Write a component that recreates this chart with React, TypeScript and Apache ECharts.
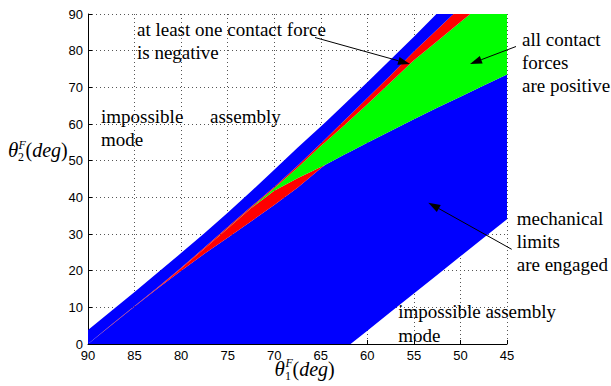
import React, { useEffect, useRef } from "react";
import * as echarts from "echarts";

// θ1^F sample points (deg) along the x axis (axis runs 90 → 45)
const THETA1 = [90, 87.5, 85, 82.5, 80, 77.5, 75, 72.5, 70, 67.5, 65, 64.5, 62.5, 61.8, 60, 57.5, 55, 52.5, 50, 47.5, 45];

// Region boundaries, θ2^F (deg) at each θ1 sample, from bottom to top
// lower edge of the feasible band (below: impossible assembly mode)
const ASSEMBLY_LOWER = [0, 0, 0, 0, 0, 0, 0, 0, 0, 0, 0, 0, 0, 0, 3.6, 8.7, 13.8, 18.8, 23.9, 29.0, 34.0];
// top of "mechanical limits are engaged" (lower blue)
const MECH_TOP = [0, 5.1, 10.2, 15.2, 20.0, 24.6, 29.0, 33.4, 37.9, 42.6, 47.9, 48.9, 51.6, 52.5, 54.9, 58.1, 61.3, 64.4, 67.4, 70.5, 73.5];
// top of the red wedge (negative contact force)
const WEDGE_TOP = [0, 5.1, 10.2, 15.3, 20.6, 26.0, 31.5, 37.0, 41.8, 45.2, 48.3, 48.9, 51.6, 52.5, 54.9, 58.1, 61.3, 64.4, 67.4, 70.5, 73.5];
// top of the green region (all contact forces positive)
const GREEN_TOP = [0, 5.1, 10.2, 15.3, 20.6, 26.0, 31.6, 37.1, 42.5, 48.1, 54.0, 55.1, 59.6, 61.2, 65.4, 71.4, 77.4, 82.6, 87.8, 93.0, 98.2];
// top of the red strip (negative contact force)
const STRIP_TOP = [0, 5.25, 10.35, 15.5, 20.8, 26.3, 31.9, 37.4, 42.8, 48.6, 54.7, 55.9, 60.9, 62.6, 67.1, 73.3, 79.8, 85.8, 91.8, 97.8, 103.8];
// top of the upper blue strip (above: impossible assembly mode)
const UPPER_TOP = [3.8, 9.0, 14.2, 19.5, 24.8, 30.2, 35.8, 41.6, 47.5, 53.5, 59.3, 60.5, 65.3, 67.0, 71.4, 77.6, 83.8, 90.2, 96.6, 103.0, 109.4];

const LAYERS = [
  { name: "mechanical limits", top: MECH_TOP, bottom: ASSEMBLY_LOWER, color: "#0000ff" },
  { name: "negative wedge", top: WEDGE_TOP, bottom: MECH_TOP, color: "#ff0000" },
  { name: "all positive", top: GREEN_TOP, bottom: WEDGE_TOP, color: "#00ff00" },
  { name: "negative strip", top: STRIP_TOP, bottom: GREEN_TOP, color: "#ff0000" },
  { name: "upper limits", top: UPPER_TOP, bottom: STRIP_TOP, color: "#0000ff" },
];

const SERIF = "'Liberation Serif', 'Times New Roman', serif";
const SANS = "Liberation Sans";

function txt(text: string, x: number, baseline: number, size: number, italic = false): any {
  return {
    type: "text",
    x,
    y: baseline - 0.3375 * size,
    z: 100,
    silent: true,
    style: {
      text,
      fill: "#000",
      font: `${italic ? "italic " : ""}${size}px ${SERIF}`,
      align: "left",
      verticalAlign: "middle",
    },
  };
}

function degLabel(x: number, baseline: number, size: number): any {
  return {
    type: "text",
    x,
    y: baseline - 0.3375 * size,
    z: 100,
    silent: true,
    style: {
      text: "{r|(}{i|deg}{r|)}",
      align: "left",
      verticalAlign: "middle",
      rich: {
        r: { fontSize: size, fontFamily: "Liberation Serif", fill: "#000" },
        i: { fontSize: size, fontFamily: "Liberation Serif", fontStyle: "italic", fill: "#000" },
      },
    },
  };
}

function arrow(x1: number, y1: number, x2: number, y2: number): any[] {
  const dx = x2 - x1;
  const dy = y2 - y1;
  const L = Math.hypot(dx, dy);
  const ux = dx / L;
  const uy = dy / L;
  const hl = 12;
  const hw = 4;
  const bx = x2 - ux * hl;
  const by = y2 - uy * hl;
  return [
    { type: "line", z: 100, silent: true, shape: { x1, y1, x2: bx, y2: by }, style: { stroke: "#000", lineWidth: 1 } },
    {
      type: "polygon",
      z: 100,
      silent: true,
      shape: { points: [[x2, y2], [bx - uy * hw, by + ux * hw], [bx + uy * hw, by - ux * hw]] },
      style: { fill: "#000" },
    },
  ];
}

export default function App() {
  const ref = useRef<HTMLDivElement>(null);

  useEffect(() => {
    document.body.style.margin = "0";
    const chart = echarts.init(ref.current!, null, { renderer: "svg" });

    const regionSeries = {
      type: "custom",
      coordinateSystem: "cartesian2d",
      silent: true,
      clip: true,
      data: LAYERS.map((_, i) => [THETA1[0], i]),
      encode: { x: 0, y: 1 },
      renderItem: (params: any, api: any) => {
        const layer = LAYERS[params.dataIndex];
        const upper = THETA1.map((x, i) => api.coord([x, layer.top[i]]));
        const lower = THETA1.map((x, i) => api.coord([x, layer.bottom[i]])).reverse();
        return {
          type: "polygon",
          shape: { points: upper.concat(lower) },
          style: { fill: layer.color, stroke: null },
        };
      },
    };

    const graphic: any[] = [
      txt("at least one contact force", 137, 36, 19),
      txt("is negative", 137, 58.5, 19),
      txt("impossible", 101, 122.7, 19),
      txt("assembly", 210, 122.7, 19),
      txt("mode", 101, 146, 19),
      txt("all contact", 522, 46, 19),
      txt("forces", 522, 68.5, 19),
      txt("are positive", 522, 91.7, 19),
      txt("mechanical", 516.7, 225, 19),
      txt("limits", 516.7, 247.5, 19),
      txt("are engaged", 516.7, 270.5, 19),
      txt("impossible assembly", 398.3, 318.3, 19),
      txt("mode", 398.3, 341.7, 19),
      ...arrow(315, 37.5, 410, 64),
      ...arrow(516, 46.5, 470, 64),
      ...arrow(511.7, 249.3, 428.3, 202.7),
      // y-axis title θ2^F(deg)
      txt("θ", 8, 157, 21, true),
      txt("F", 18.5, 149, 12, true),
      txt("2", 18, 161.5, 12),
      degLabel(25.5, 157, 20),
      // x-axis title θ1^F(deg)
      txt("θ", 274.5, 376, 21, true),
      txt("F", 285.5, 367.5, 12, true),
      txt("1", 285, 380, 12),
      degLabel(292.5, 376, 20),
    ];

    chart.setOption({
      animation: false,
      backgroundColor: "#fff",
      grid: { left: 88, right: 104, top: 14, bottom: 42, containLabel: false },
      xAxis: {
        type: "value",
        inverse: true,
        min: 45,
        max: 90,
        interval: 5,
        axisLine: { show: true, onZero: false, lineStyle: { color: "#000", width: 1 } },
        axisTick: { show: true, inside: true, length: 4, lineStyle: { color: "#000" } },
        axisLabel: { color: "#000", fontSize: 13, fontFamily: SANS, margin: 5, showMinLabel: true, showMaxLabel: true },
        splitLine: { show: true, lineStyle: { color: "#555", width: 1, type: [1, 3] } },
      },
      yAxis: {
        type: "value",
        min: 0,
        max: 90,
        interval: 10,
        axisLine: { show: true, onZero: false, lineStyle: { color: "#000", width: 1 } },
        axisTick: { show: true, inside: true, length: 4, lineStyle: { color: "#000" } },
        axisLabel: { color: "#000", fontSize: 13, fontFamily: SANS, margin: 5, showMinLabel: true, showMaxLabel: true },
        splitLine: { show: true, lineStyle: { color: "#555", width: 1, type: [1, 3] } },
      },
      series: [regionSeries],
      graphic,
    });

    return () => chart.dispose();
  }, []);

  return <div ref={ref} style={{ width: 611, height: 386 }} />;
}
